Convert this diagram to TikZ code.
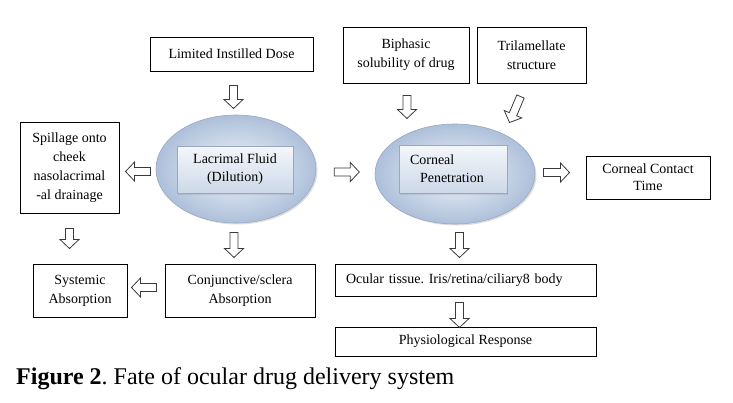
\documentclass[tikz,border=0pt]{standalone}
\usepackage{fontspec}
\setmainfont{Liberation Serif}
\usetikzlibrary{shapes.geometric, calc, shadows}
\definecolor{ocline}{HTML}{3A3A3A}
\definecolor{ocellin}{HTML}{F0F4F9}
\definecolor{ocellout}{HTML}{ADC0DA}
\definecolor{ocrecttop}{HTML}{F4F7FB}
\definecolor{ocrectbot}{HTML}{CCD8E8}
\definecolor{ocrim}{HTML}{9AA8BE}

% hollow block arrow from #1 to #2
\newcommand{\hollowarrow}[2]{%
  \path #1 coordinate (ha-s) #2 coordinate (ha-t);
  \path ($(ha-t)!9pt!(ha-s)$) coordinate (ha-b);
  \draw[harrow] ($(ha-s)!4pt!90:(ha-t)$) -- ($(ha-b)!4pt!90:(ha-t)$)
    -- ($(ha-b)!9.5pt!90:(ha-t)$) -- (ha-t) -- ($(ha-b)!9.5pt!-90:(ha-t)$)
    -- ($(ha-b)!4pt!-90:(ha-t)$) -- ($(ha-s)!4pt!-90:(ha-t)$) -- cycle;}

\begin{document}
\frenchspacing
\begin{tikzpicture}[
  x=1pt, y=-1pt,
  box/.style={rectangle, draw, line width=1pt, fill=white, align=center,
    inner sep=2pt, font=\fontsize{14}{19}\selectfont},
  drop/.style={ellipse, draw=ocrim, line width=0.6pt, inner color=ocellin,
    outer color=ocellout, inner sep=0pt,
    drop shadow={opacity=0.25, shadow xshift=1.5pt, shadow yshift=-1.5pt}},
  inset/.style={rectangle, draw=ocrim, line width=0.6pt, top color=ocrecttop,
    bottom color=ocrectbot, inner sep=2pt, align=center, font=\fontsize{14}{18}\selectfont,
    drop shadow={opacity=0.2, shadow xshift=1pt, shadow yshift=-1.5pt}},
  harrow/.style={draw=ocline, line width=0.8pt, fill=white, line join=miter},
]
  \useasboundingbox (0,0) rectangle (733,402);

  % top row
  \node[box, minimum width=163pt, minimum height=34pt] (dose) at (231.5,54) {Limited Instilled Dose};
  \node[box, minimum width=126pt, minimum height=56pt] (bip) at (406,55) {Biphasic\\solubility of drug};
  \node[box, minimum width=109pt, minimum height=56pt] (tri) at (531.5,55) {Trilamellate\\structure};

  % middle row
  \node[box, minimum width=99pt, minimum height=91pt] (spill) at (69.5,167.5)
    {Spillage onto\\cheek\\nasolacrimal\\-al drainage};
  \node[drop, minimum width=160pt, minimum height=108pt] (lac) at (236,169) {};
  \node[inset, minimum width=116pt, minimum height=47pt] (lactxt) at (235,169.5) {Lacrimal Fluid\\(Dilution)};
  \node[drop, minimum width=160pt, minimum height=100pt] (corn) at (455,174) {};
  \node[inset, text width=86pt, inner xsep=11pt, align=left, minimum height=48pt] (corntxt) at (453,169)
    {Corneal\\\hspace*{10pt}Penetration};
  \node[box, minimum width=124pt, minimum height=43pt, font=\fontsize{14}{17}\selectfont] (cct) at (648,177.5)
    {Corneal Contact\\Time};

  % bottom rows
  \node[box, minimum width=94pt, minimum height=53pt] (sys) at (80,290.5) {Systemic\\Absorption};
  \node[box, minimum width=150pt, minimum height=53pt] (conj) at (240,290.5) {Conjunctive/sclera\\Absorption};
  \node[box, text width=239pt, inner xsep=11pt, align=left, minimum height=32pt] (ocul) at (465.5,280)
    {Ocular tissue. Iris/retina/ciliary8 body};
  \node[box, minimum width=261pt, minimum height=29pt] (phys) at (465.5,341.5) {Physiological Response};

  % arrows
  \hollowarrow{($(dose.south)+(2,14)$)}{($(dose.south)+(2,37)$)}
  \hollowarrow{($(spill.east)+(31,4)$)}{($(spill.east)+(6,4)$)}
  \hollowarrow{($(lac.east)+(18,3)$)}{($(lac.east)+(43,3)$)}
  \hollowarrow{($(bip.south)+(1,12)$)}{($(bip.south)+(1,35)$)}
  \hollowarrow{($(tri.south)+(-11,13)$)}{($(tri.south)+(-22,39)$)}
  \hollowarrow{($(cct.west)+(-42,-5)$)}{($(cct.west)+(-16,-5)$)}
  \hollowarrow{($(spill.south)+(0,15)$)}{($(spill.south)+(0,35)$)}
  \hollowarrow{($(conj.north)+(-6,-31)$)}{($(conj.north)+(-6,-6)$)}
  \hollowarrow{($(conj.west)+(-8,-3)$)}{($(conj.west)+(-33,-3)$)}
  \hollowarrow{($(ocul.north)+(-6,-31)$)}{($(ocul.north)+(-6,-6)$)}
  \hollowarrow{($(ocul.south)+(-6,6)$)}{($(ocul.south)+(-6,31)$)}

  % caption
  \node[anchor=base west, inner sep=0pt, font=\fontsize{24}{28}\selectfont] (caption) at (16,384)
    {\textbf{Figure 2}. Fate of ocular drug delivery system};
\end{tikzpicture}
\end{document}
